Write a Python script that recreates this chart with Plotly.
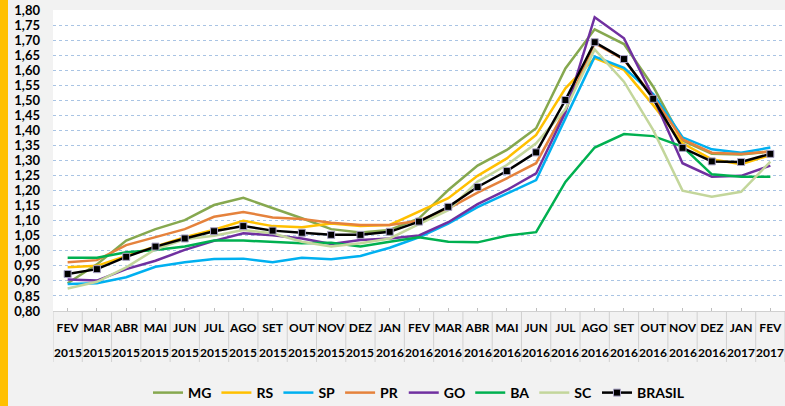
import plotly.graph_objects as go

months = ["FEV","MAR","ABR","MAI","JUN","JUL","AGO","SET","OUT","NOV","DEZ","JAN",
          "FEV","MAR","ABR","MAI","JUN","JUL","AGO","SET","OUT","NOV","DEZ","JAN","FEV"]
years = ["2015"]*11 + ["2016"]*12 + ["2017"]*2
categories = [f"{m} {y}" for m, y in zip(months, years)]

MG = [0.892,0.955,1.034,1.072,1.102,1.152,1.176,1.143,1.108,1.072,1.061,1.069,1.108,
      1.202,1.283,1.335,1.407,1.606,1.736,1.687,1.545,1.366,1.322,1.320,1.330]
RS = [0.945,0.950,0.983,1.015,1.045,1.070,1.100,1.082,1.078,1.091,1.082,1.086,1.130,
      1.175,1.249,1.307,1.385,1.540,1.640,1.601,1.484,1.357,1.304,1.288,1.318]
SP = [0.890,0.892,0.912,0.947,0.962,0.973,0.974,0.962,0.977,0.972,0.983,1.010,1.045,
      1.090,1.145,1.190,1.235,1.440,1.645,1.608,1.521,1.377,1.337,1.326,1.343]
PR = [0.962,0.969,1.019,1.045,1.072,1.113,1.129,1.111,1.106,1.093,1.086,1.086,1.100,
      1.140,1.193,1.241,1.291,1.468,1.690,1.635,1.510,1.370,1.326,1.322,1.330]
GO = [0.905,0.901,0.939,0.967,1.003,1.033,1.058,1.052,1.041,1.023,1.036,1.041,1.051,
      1.095,1.155,1.202,1.257,1.460,1.776,1.706,1.510,1.291,1.246,1.249,1.283]
BA = [0.977,0.977,0.995,1.003,1.014,1.034,1.034,1.029,1.025,1.027,1.014,1.030,1.045,
      1.030,1.028,1.050,1.062,1.229,1.343,1.388,1.381,1.346,1.254,1.246,1.246]
SC = [0.875,0.897,0.945,1.005,1.038,1.050,1.069,1.058,1.030,1.014,1.025,1.041,1.089,
      1.135,1.230,1.285,1.357,1.470,1.669,1.562,1.401,1.200,1.180,1.196,1.296]
BRASIL = [0.923,0.939,0.980,1.014,1.041,1.065,1.082,1.067,1.060,1.053,1.053,1.063,1.097,
          1.146,1.212,1.265,1.327,1.501,1.693,1.637,1.505,1.342,1.297,1.295,1.322]

series = [("MG", MG, "#86A84F"), ("RS", RS, "#FFC000"), ("SP", SP, "#00B0F0"),
          ("PR", PR, "#E5823C"), ("GO", GO, "#7030A0"), ("BA", BA, "#00B050"),
          ("SC", SC, "#C3D69B")]

W, H = 785, 406
L, R, T, B = 53, 0, 10, 95
ph = H - T - B
pw = W - L - R

fig = go.Figure()
for name, vals, col in series:
    fig.add_trace(go.Scatter(x=categories, y=vals, name=name, mode="lines",
                             line=dict(color=col, width=2.5)))
fig.add_trace(go.Scatter(x=categories, y=BRASIL, name="BRASIL", mode="lines+markers",
                         line=dict(color="#000000", width=2.5),
                         marker=dict(symbol="square", size=7, color="#000000",
                                     line=dict(color="#A9A3C6", width=1))))

shapes = []
shapes.append(dict(type="rect", xref="paper", yref="paper",
                   x0=-L/pw, x1=-(L-8)/pw, y0=-B/ph, y1=(ph+T)/ph,
                   fillcolor="#FFC000", line=dict(width=0), layer="below"))
for i in range(len(categories)+1):
    shapes.append(dict(type="line", xref="x", yref="paper",
                       x0=i-0.5, x1=i-0.5, y0=0, y1=-51/ph,
                       line=dict(color="#D0D0D0", width=1)))

annotations = []
for c, y in zip(categories, years):
    annotations.append(dict(x=c, y=-41/ph, xref="x", yref="paper", text=y,
                            showarrow=False, xanchor="center", yanchor="middle",
                            font=dict(family="Lato", size=12, color="#000000",
                                      weight="bold")))

fig.update_layout(
    width=W, height=H,
    margin=dict(l=L, r=R, t=T, b=B, autoexpand=False),
    paper_bgcolor="#F2F2F2", plot_bgcolor="#FFFFFF",
    separators=",.",
    showlegend=True,
    legend=dict(orientation="h", x=0.5, xanchor="center", y=-82/ph, yanchor="middle",
                font=dict(family="Lato", size=14, color="#000000", weight="bold"),
                bgcolor="rgba(0,0,0,0)", itemwidth=30, tracegroupgap=0),
    shapes=shapes, annotations=annotations,
    xaxis=dict(type="category", tickmode="array", tickvals=categories,
               ticktext=months, range=[-0.5, len(categories)-0.5],
               showgrid=False, showline=True, linecolor="#D0D0D0", linewidth=1,
               ticks="inside", ticklen=3, tickcolor="#BFBFBF",
               ticklabelstandoff=6, automargin=False,
               tickfont=dict(family="Lato", size=12, color="#000000", weight="bold"),
               zeroline=False, fixedrange=True),
    yaxis=dict(range=[0.80, 1.80], tick0=0.80, dtick=0.05, tickformat=".2f",
               showgrid=True, gridcolor="#A9C4E4", griddash="dot", gridwidth=1,
               showline=False, zeroline=False, ticks="", automargin=False,
               ticklabelstandoff=12,
               tickfont=dict(family="Lato", size=13, color="#000000", weight="bold")),
)

fig.write_html("out.html", config={"displayModeBar": False},
               post_script="document.body.style.margin='0';document.body.style.overflow='hidden';")
